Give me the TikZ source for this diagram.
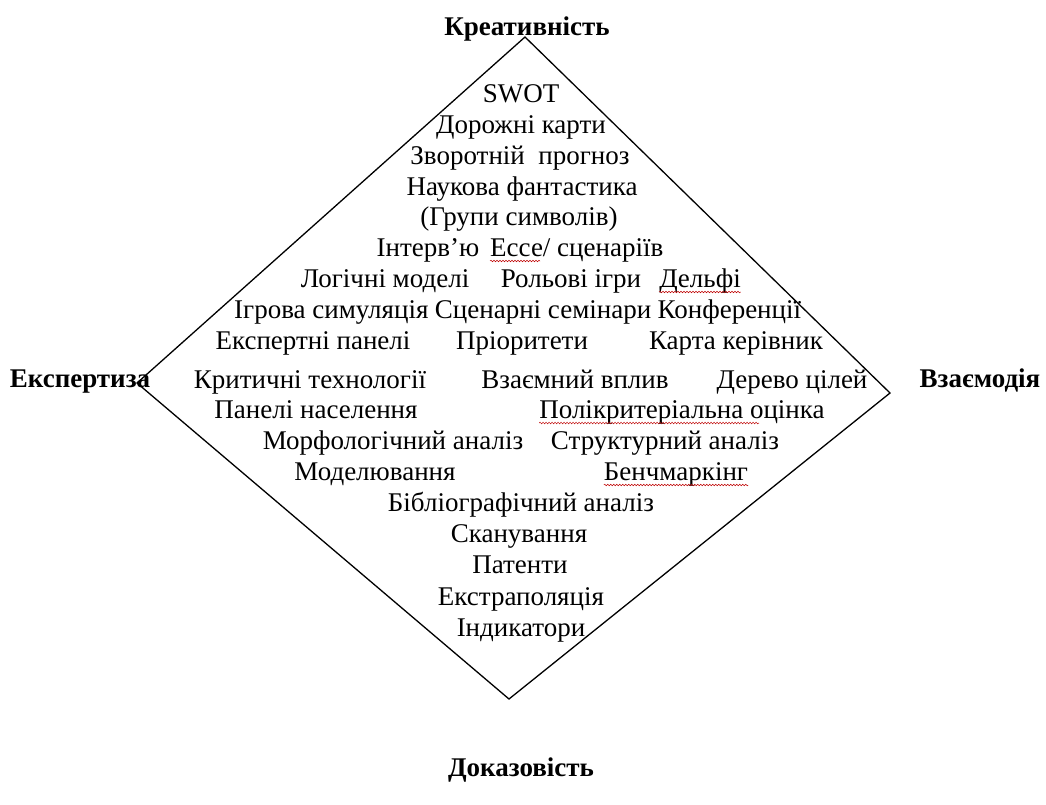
\documentclass[tikz,border=0pt]{standalone}
\usepackage{fontspec}
\setmainfont{Liberation Serif}
\usetikzlibrary{decorations.pathmorphing}
\begin{document}
\begin{tikzpicture}[x=1pt,y=-1pt,
  item/.style={anchor=base, inner sep=0pt, font=\fontsize{27}{31}\selectfont},
  lab/.style={anchor=base, inner sep=0pt, font=\fontsize{27}{31}\selectfont\bfseries},
  edge/.style={draw=black, line width=1.3pt, line join=miter},
  squig/.style={draw=red!75!black, line width=0.5pt, decorate, decoration={snake, amplitude=0.8pt, segment length=3pt}}]
\useasboundingbox[fill=white] (0,0) rectangle (1046,804);
% diamond
\coordinate (T) at (525,37);
\coordinate (R) at (890,393);
\coordinate (B) at (509,699);
\coordinate (L) at (137,383);
\draw[edge] (T) -- (R) -- (B) -- (L) -- cycle;
% corner labels
\node[lab] (kreat) at (527,35) {Креативність};
\node[lab] (expert) at (80,387) {Експертиза};
\node[lab] (vzaem) at (980,387) {Взаємодія};
\node[lab] (dokaz) at (521,776) {Доказовість};
% items
\node[item] (swot) at (521,102) {SWOT};
\node[item] (dorozh) at (521,133) {Дорожні карти};
\node[item] (zvor) at (520,164) {Зворотній\ \ прогноз};
\node[item] (nauk) at (522,195) {Наукова фантастика};
\node[item] (grupy) at (519,225) {(Групи символів)};
\node[item] (interv) at (428,256) {Інтерв’ю};
\node[item, anchor=base west] (esse) at (490,256) {Ессе/ сценаріїв};
\node[item] (logic) at (385,287) {Логічні моделі};
\node[item] (rol) at (571,287) {Рольові ігри};
\node[item] (delf) at (700,287) {Дельфі};
\node[item, anchor=base west] (igr) at (234,318) {Ігрова симуляція};
\node[item, anchor=base west] (scen) at ([xshift=6pt]igr.base east) {Сценарні семінари};
\node[item, anchor=base west] (konf) at ([xshift=6pt]scen.base east) {Конференції};
\node[item] (exppan) at (313,349) {Експертні панелі};
\node[item] (prior) at (522,349) {Пріоритети};
\node[item] (karta) at (736,349) {Карта керівник};
\node[item] (krit) at (310,388) {Критичні технології};
\node[item] (vplyv) at (575,388) {Взаємний вплив};
\node[item] (derevo) at (792,388) {Дерево цілей};
\node[item] (panel) at (316,418) {Панелі населення};
\node[item] (polik) at (682,418) {Полікритеріальна оцінка};
\node[item] (morf) at (393,449) {Морфологічний аналіз};
\node[item] (strukt) at (665,449) {Структурний аналіз};
\node[item] (model) at (375,480) {Моделювання};
\node[item] (bench) at (676,480) {Бенчмаркінг};
\node[item] (bibl) at (521,511) {Бібліографічний аналіз};
\node[item] (skan) at (519,542) {Сканування};
\node[item] (patent) at (520,573) {Патенти};
\node[item] (extra) at (521,605) {Екстраполяція};
\node[item] (indyk) at (521,636) {Індикатори};
% spell-check underlines
\draw[squig] ([yshift=-5pt]esse.base west) -- ++(50,0);
\draw[squig] ([yshift=-5pt]delf.base west) -- ([yshift=-5pt]delf.base east);
\draw[squig] ([yshift=-5pt]polik.base west) -- ++(220,0);
\draw[squig] ([yshift=-5pt]bench.base west) -- ([yshift=-5pt]bench.base east);
\end{tikzpicture}
\end{document}
